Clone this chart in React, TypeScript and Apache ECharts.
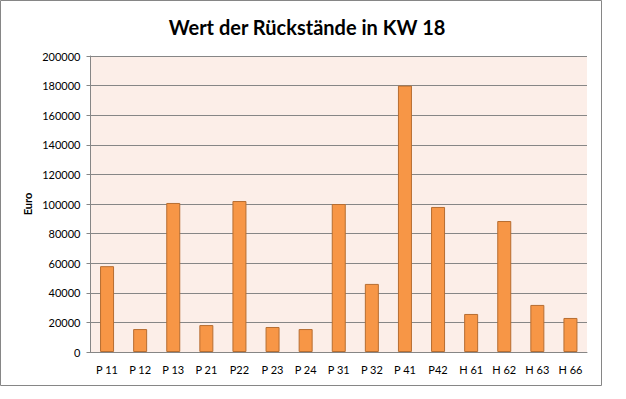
import React, { useEffect, useRef } from "react";
import * as echarts from "echarts";

const categories = ["P 11", "P 12", "P 13", "P 21", "P22", "P 23", "P 24", "P 31", "P 32", "P 41", "P42", "H 61", "H 62", "H 63", "H 66"];
const values = [58000, 15500, 100700, 18200, 102000, 16900, 15500, 100000, 46000, 180000, 98000, 25700, 88500, 31800, 23000];
const yMin = 0;
const yMax = 200000;
const yInterval = 20000;
const titleText = "Wert der Rückstände in KW 18";
const yAxisName = "Euro";

export default function App() {
  const ref = useRef<HTMLDivElement>(null);
  useEffect(() => {
    if (!ref.current) return;
    const chart = echarts.init(ref.current, undefined, { renderer: "svg" });
    const font = "Lato, 'Open Sans', sans-serif";
    chart.setOption({
      animation: false,
      backgroundColor: "#ffffff",
      title: {
        text: titleText,
        left: 302,
        top: 12,
        textAlign: "center",
        textStyle: { fontFamily: font, fontSize: 20, fontWeight: "bold", color: "#000000" },
      },
      graphic: [
        {
          type: "rect",
          shape: { x: 0.5, y: 0.5, width: 601, height: 385 },
          style: { fill: "none", stroke: "#868686", lineWidth: 1 },
          z: 100,
        },
      ],
      grid: {
        left: 90.5,
        right: 39,
        top: 56,
        bottom: 47,
        show: true,
        backgroundColor: "#FCEEE8",
        borderWidth: 0,
      },
      xAxis: {
        type: "category",
        data: categories,
        axisLine: { show: true, lineStyle: { color: "#868686", width: 1 } },
        axisTick: { show: false },
        axisLabel: { color: "#000000", fontFamily: font, fontSize: 11, margin: 12, interval: 0 },
      },
      yAxis: {
        type: "value",
        min: yMin,
        max: yMax,
        interval: yInterval,
        name: yAxisName,
        nameLocation: "middle",
        nameGap: 58,
        nameMoveOverlap: false,
        nameRotate: 90,
        nameTextStyle: { fontFamily: font, fontSize: 11, fontWeight: "bold", color: "#000000" },
        axisLine: { show: true, lineStyle: { color: "#868686", width: 1 } },
        axisTick: { show: true, inside: false, length: 4, lineStyle: { color: "#868686" } },
        splitLine: { show: true, lineStyle: { color: "#868686", width: 1 } },
        axisLabel: {
          color: "#000000",
          fontFamily: font,
          fontSize: 11,
          margin: 10,
          formatter: (v: number) => String(v),
        },
      },
      series: [
        {
          type: "bar",
          data: values,
          barWidth: 14,
          itemStyle: { color: "#F79646", borderColor: "#B66D31", borderWidth: 1 },
        },
      ],
    });
    return () => chart.dispose();
  }, []);
  return (
    <div
      ref={ref}
      style={{ position: "fixed", left: 0, top: 0, width: 626, height: 399 }}
    />
  );
}
